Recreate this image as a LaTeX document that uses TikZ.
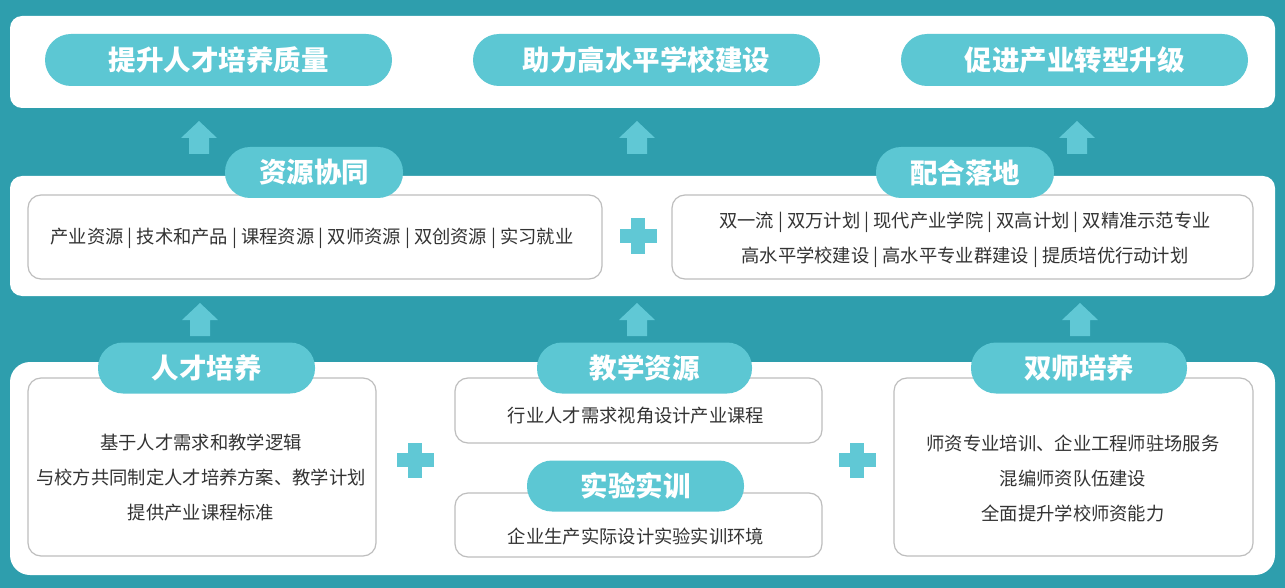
\documentclass[tikz,border=0pt]{standalone}
\usepackage{fontspec}
\newfontfamily\cjk{Noto Sans CJK SC}
\definecolor{bgc}{RGB}{46,158,173}
\definecolor{pillc}{RGB}{92,199,211}
\definecolor{arrc}{RGB}{96,200,213}
\definecolor{txtc}{RGB}{51,51,51}
\definecolor{bordc}{RGB}{190,190,190}
\tikzset{
  panel/.style={draw=none, fill=white, rounded corners=12pt, inner sep=0pt},
  pill/.style={fill=pillc, text=white, rounded corners=25pt, inner sep=0pt, minimum height=51pt,
    font=\cjk\bfseries\fontsize{27.5}{32}\selectfont},
  bigpill/.style={pill, minimum height=52pt, rounded corners=26pt, minimum width=347pt},
  box/.style={draw=bordc, line width=1.2pt, fill=white, rounded corners=13pt, inner sep=0pt},
  boxtext/.style={text=txtc, align=center, inner sep=0pt, font=\cjk\fontsize{18.3}{35}\selectfont},
  upar/.style={fill=arrc},
  plus/.style={fill=arrc}
}
\newcommand\uparrowat[3]{% x, ybottom, name
  \coordinate (#3) at (#1,#2);
  \fill[upar] (#3) ++(-10,0) -- ++(20,0) -- ++(0,-16) -- ++(8,0) -- ++(-18,-17) -- ++(-18,17) -- ++(8,0) -- cycle;
}
\newcommand\plusat[3]{% x, y, name
  \coordinate (#3) at (#1,#2);
  \fill[plus] (#3) ++(-18.5,-7) rectangle ++(37,14);
  \fill[plus] (#3) ++(-7,-17.5) rectangle ++(14,35);
}
\begin{document}
\begin{tikzpicture}[x=1pt,y=-1pt]
\fill[bgc] (0,0) rectangle (1285,588);
\useasboundingbox (0,0) rectangle (1285,588);

% panels
\node[panel, minimum width=1265pt, minimum height=92pt] (ptop) at (642.5,62) {};
\node[panel, minimum width=1265pt, minimum height=120pt] (pmid) at (642.5,236) {};
\node[panel, minimum width=1265pt, minimum height=213pt, rounded corners=20pt] (pbot) at (642.5,468.5) {};

% top pills
\node[bigpill] (g1) at (218.5,60) {提升人才培养质量};
\node[bigpill] (g2) at (646.5,60) {助力高水平学校建设};
\node[bigpill] (g3) at (1074.5,60) {促进产业转型升级};

% arrows top
\uparrowat{199}{154}{a1}
\uparrowat{637}{154}{a2}
\uparrowat{1077}{154}{a3}

% middle boxes
\node[box, minimum width=574pt, minimum height=84pt] (bm1) at (315,237) {};
\node[boxtext] (tm1) at (312,238) {产业资源 | 技术和产品 | 课程资源 | 双师资源 | 双创资源 | 实习就业};
\node[box, minimum width=581pt, minimum height=84pt] (bm2) at (962.5,237) {};
\node[boxtext] (tm2) at (965,239.5) {双一流 | 双万计划 | 现代产业学院 | 双高计划 | 双精准示范专业\\高水平学校建设 | 高水平专业群建设 | 提质培优行动计划};
\node[pill, minimum width=178pt] (m1) at (314,172.5) {资源协同};
\node[pill, minimum width=178pt] (m2) at (965,172.5) {配合落地};
\plusat{638}{236}{pl1}

% arrows bottom
\uparrowat{200}{336}{a4}
\uparrowat{637}{336}{a5}
\uparrowat{1080}{336}{a6}

% bottom boxes
\node[box, minimum width=348pt, minimum height=178pt] (b1) at (202,467) {};
\node[boxtext] (t1) at (201,478) {基于人才需求和教学逻辑\\与校方共同制定人才培养方案、教学计划\\提供产业课程标准};
\node[box, minimum width=367pt, minimum height=65pt] (b2) at (638.5,410.5) {};
\node[boxtext] (t2) at (636,416) {行业人才需求视角设计产业课程};
\node[box, minimum width=367pt, minimum height=64pt] (b3) at (638.5,525) {};
\node[boxtext] (t3) at (636,537) {企业生产实际设计实验实训环境};
\node[box, minimum width=359pt, minimum height=178pt] (b4) at (1073.5,467) {};
\node[boxtext] (t4) at (1073,478) {师资专业培训、企业工程师驻场服务\\混编师资队伍建设\\全面提升学校师资能力};

\node[pill, minimum width=217pt] (n1) at (206.5,368) {人才培养};
\node[pill, minimum width=215pt] (n2) at (644.5,368) {教学资源};
\node[pill, minimum width=217pt] (n3) at (635.5,486) {实验实训};
\node[pill, minimum width=216pt] (n4) at (1079,368) {双师培养};

\plusat{415}{460}{pl2}
\plusat{857}{460}{pl3}
\end{tikzpicture}
\end{document}
